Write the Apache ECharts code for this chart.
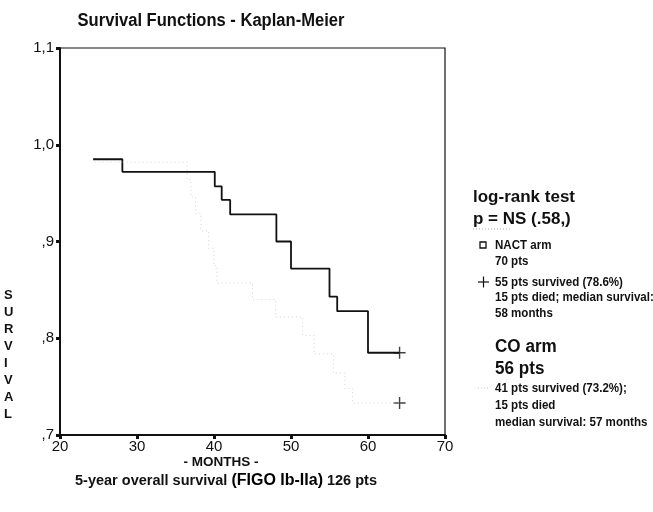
<!DOCTYPE html>
<html>
<head>
<meta charset="utf-8">
<script src="https://cdn.jsdelivr.net/npm/echarts@6/dist/echarts.min.js"></script>
<style>html,body{margin:0;padding:0;background:#fff;}#c{width:653px;height:512px;}</style>
</head>
<body>
<div id="c"></div>
<script>
// ---- data ----
const nactMonths = [24.3, 28.1, 40.1, 41.0, 42.1, 48.1, 50.0, 55.0, 56.0, 60.0, 64.1];
const nactSurv   = [0.985, 0.972, 0.957, 0.943, 0.928, 0.900, 0.872, 0.843, 0.828, 0.785, 0.785];
const coMonths   = [24.5, 36.5, 37.0, 37.6, 38.3, 39.3, 40.0, 40.4, 45.0, 48.0, 51.5, 53.0, 55.5, 57.0, 58.0, 64.1];
const coSurv     = [0.982, 0.964, 0.946, 0.929, 0.911, 0.893, 0.875, 0.857, 0.840, 0.822, 0.803, 0.784, 0.764, 0.748, 0.733, 0.733];
const censorNact = [[64.1, 0.785]];
const censorCo   = [[64.1, 0.733]];
const xTicks = [20, 30, 40, 50, 60, 70];
const yTicks = [0.7, 0.8, 0.9, 1.0, 1.1];

const FONT = '"Liberation Sans", Arial, sans-serif';
const plusPath = 'path://M5.3,0 L6.7,0 L6.7,5.3 L12,5.3 L12,6.7 L6.7,6.7 L6.7,12 L5.3,12 L5.3,6.7 L0,6.7 L0,5.3 L5.3,5.3 Z';

const chart = echarts.init(document.getElementById('c'), null, {renderer: 'canvas'});
const fmtY = v => v.toFixed(1).replace('.', ',').replace(/^0/, '');

const legendLines = [
  {t: 'log-rank test', x: 473, y: 197, s: 17, k: 1},
  {t: 'p = NS (.58,)', x: 473, y: 219, s: 17, k: 1},
  {t: 'NACT arm', x: 495, y: 245, s: 13, k: 0.89},
  {t: '70 pts', x: 495, y: 261, s: 13, k: 0.89},
  {t: '55 pts survived (78.6%)', x: 495, y: 282, s: 13, k: 0.89},
  {t: '15 pts died; median survival:', x: 495, y: 297, s: 13, k: 0.89},
  {t: '58 months', x: 495, y: 313, s: 13, k: 0.89},
  {t: 'CO arm', x: 495, y: 347, s: 18, k: 0.95},
  {t: '56 pts', x: 495, y: 369, s: 18, k: 0.95},
  {t: '41 pts survived (73.2%);', x: 495, y: 388, s: 13, k: 0.89},
  {t: '15 pts died', x: 495, y: 405, s: 13, k: 0.89},
  {t: 'median survival: 57 months', x: 495, y: 422, s: 13, k: 0.89}
];

const graphics = legendLines.map(l => ({
  type: 'text', x: l.x, y: l.y, scaleX: l.k,
  style: {text: l.t, font: 'bold ' + l.s + 'px ' + FONT, fill: '#111', verticalAlign: 'middle', align: 'left'}
}));
graphics.push(
  {type: 'text', x: 211, y: 21, scaleX: 0.92, style: {text: 'Survival Functions - Kaplan-Meier', font: 'bold 18px ' + FONT, fill: '#111', align: 'center', verticalAlign: 'middle'}},
  {type: 'rect', shape: {x: 480, y: 242, width: 6, height: 6}, style: {fill: '#fff', stroke: '#111', lineWidth: 1.3}},
  {type: 'line', shape: {x1: 478, y1: 282, x2: 489, y2: 282}, style: {stroke: '#111', lineWidth: 1.2}},
  {type: 'line', shape: {x1: 483.5, y1: 276.5, x2: 483.5, y2: 287.5}, style: {stroke: '#111', lineWidth: 1.2}},
  {type: 'line', shape: {x1: 478, y1: 388, x2: 488, y2: 388}, style: {stroke: '#ccc', lineWidth: 1, lineDash: [1, 2]}},
  {type: 'line', shape: {x1: 473, y1: 229, x2: 512, y2: 229}, style: {stroke: '#aaa', lineWidth: 1, lineDash: [1, 2]}},
  {type: 'text', x: 4, y: 287, style: {text: 'S\nU\nR\nV\nI\nV\nA\nL', font: 'bold 13px ' + FONT, fill: '#111', lineHeight: 17, align: 'left'}},
  {type: 'text', x: 221, y: 462, style: {text: '- MONTHS -', font: 'bold 13.5px ' + FONT, fill: '#111', align: 'center', verticalAlign: 'middle'}},
  {type: 'text', x: 226, y: 481, style: {
    text: '{a|5-year overall survival }{b|(FIGO Ib-IIa)}{a| 126 pts}',
    align: 'center', verticalAlign: 'middle',
    rich: {a: {font: 'bold 14.5px ' + FONT, fill: '#111'}, b: {font: '900 16px ' + FONT, fill: '#000'}}
  }}
);

chart.setOption({
  animation: false,
  backgroundColor: '#fff',
  grid: {left: 60, right: 208, top: 48, bottom: 77, show: true, borderColor: '#111', borderWidth: 1.2, backgroundColor: 'transparent'},
  xAxis: {type: 'value', min: xTicks[0], max: xTicks[xTicks.length - 1], interval: 10,
    axisLine: {show: true, lineStyle: {color: '#111', width: 2}},
    axisTick: {show: true, length: 4, lineStyle: {color: '#111', width: 3}},
    axisLabel: {fontFamily: FONT, fontSize: 15, color: '#111', margin: 4},
    splitLine: {show: false}},
  yAxis: {type: 'value', min: yTicks[0], max: yTicks[yTicks.length - 1], interval: 0.1,
    axisLine: {show: true, lineStyle: {color: '#111', width: 2}},
    axisTick: {show: true, length: 4, lineStyle: {color: '#111', width: 3}},
    axisLabel: {fontFamily: FONT, fontSize: 15, color: '#111', margin: 6, formatter: fmtY},
    splitLine: {show: false}},
  graphic: graphics,
  series: [
    {name: 'NACT arm', type: 'line', step: 'end', symbol: 'none',
      data: nactMonths.map((m, i) => [m, nactSurv[i]]),
      lineStyle: {color: '#111', width: 1.8}},
    {name: 'CO arm', type: 'line', step: 'end', symbol: 'none',
      data: coMonths.map((m, i) => [m, coSurv[i]]),
      lineStyle: {color: '#d2d2d2', width: 1, type: [1, 3]}},
    {name: 'NACT censored', type: 'scatter', symbol: plusPath, symbolSize: 12,
      data: censorNact, itemStyle: {color: '#111'}},
    {name: 'CO censored', type: 'scatter', symbol: plusPath, symbolSize: 12,
      data: censorCo, itemStyle: {color: '#111'}}
  ]
});
</script>
</body>
</html>
